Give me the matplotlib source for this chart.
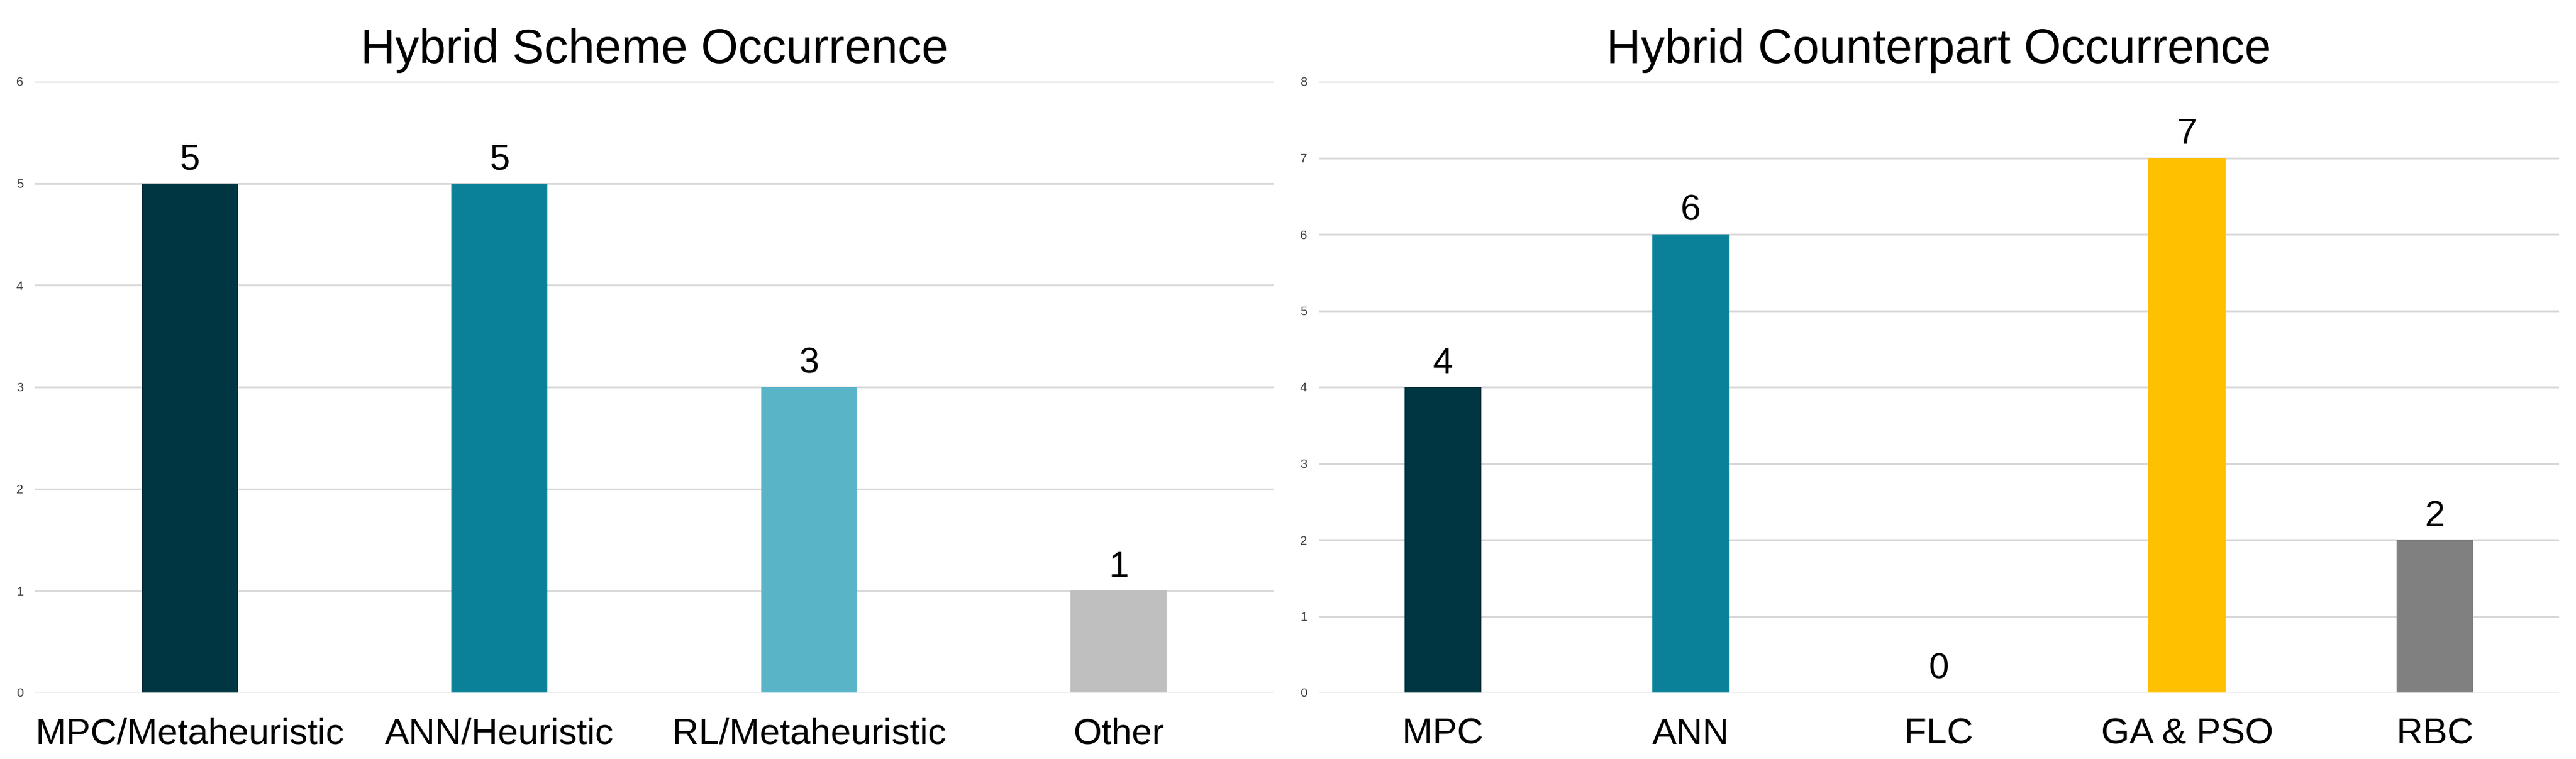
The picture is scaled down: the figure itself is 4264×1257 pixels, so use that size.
import numpy as np
import matplotlib
matplotlib.use("Agg")
import matplotlib.pyplot as plt

plt.rcParams['font.family'] = ['Liberation Sans', 'DejaVu Sans']

# left panel data
scheme_names = ["MPC/Metaheuristic", "ANN/Heuristic", "RL/Metaheuristic", "Other"]
scheme_counts = [5, 5, 3, 1]
scheme_colors = ["#003641", "#0A8199", "#5AB4C8", "#BFBFBF"]

# right panel data
counterpart_names = ["MPC", "ANN", "FLC", "GA & PSO", "RBC"]
counterpart_counts = [4, 6, 0, 7, 2]
counterpart_colors = ["#003641", "#0A8199", "#5AB4C8", "#FFC000", "#808080"]

DPI = 100
fig = plt.figure(figsize=(42.64, 12.57), dpi=DPI)

ax1 = fig.add_axes([58 / 4264, 1 - 1147 / 1257, 2050 / 4264, 1012 / 1257])
ax2 = fig.add_axes([2183 / 4264, 1 - 1147 / 1257, 2053 / 4264, 1012 / 1257])


def draw_panel(ax, names, counts, colors, title, ymax):
    x = np.arange(len(names))
    bars = ax.bar(x, counts, width=0.31, color=colors, zorder=3)
    ax.bar_label(bars, labels=[str(c) for c in counts], padding=8, fontsize=43, color="black")
    ax.set_xlim(-0.5, len(names) - 0.5)
    ax.set_ylim(0, ymax)
    ax.set_yticks(range(ymax + 1))
    ax.yaxis.grid(True, color="#D9D9D9", linewidth=2.2, zorder=0)
    ax.set_axisbelow(True)
    for s in ax.spines.values():
        s.set_visible(False)
    ax.set_xticks(x)
    ax.set_xticklabels(names, fontsize=43.5)
    ax.tick_params(axis="x", length=0, pad=30)
    ax.tick_params(axis="y", length=0, pad=14, labelsize=15, labelcolor="#404040")
    ax.set_title(title, fontsize=57, pad=22)


draw_panel(ax1, scheme_names, scheme_counts, scheme_colors, "Hybrid Scheme Occurrence", 6)
draw_panel(ax2, counterpart_names, counterpart_counts, counterpart_colors, "Hybrid Counterpart Occurrence", 8)

fig.savefig("out.png", dpi=DPI, facecolor="white")
